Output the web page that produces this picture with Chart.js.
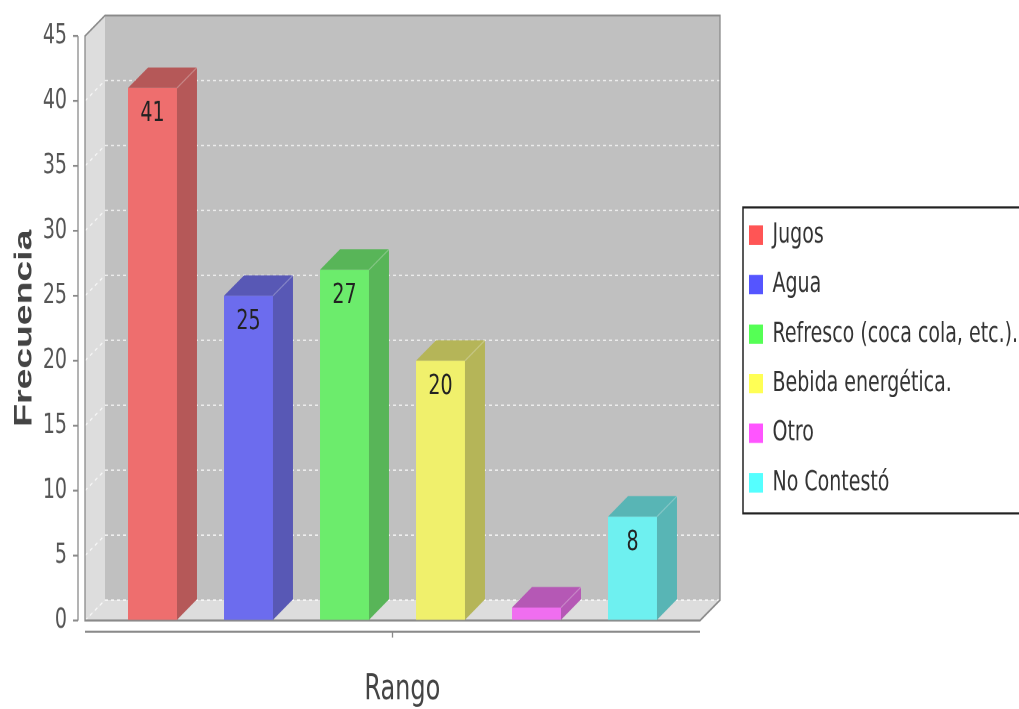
<!DOCTYPE html>
<html>
<head>
<meta charset="utf-8">
<script src="https://cdn.jsdelivr.net/npm/chart.js@4/dist/chart.umd.min.js"></script>
<style>
html,body{margin:0;padding:0;background:#fff;overflow:hidden;width:1019px;height:709px}
#wrap{width:1019px;height:475px;transform:scaleY(1.492632);transform-origin:0 0}
canvas{display:block}
</style>
</head>
<body>
<div id="wrap"><canvas id="c" width="1019" height="475" style="width:1019px;height:475px"></canvas></div>
<script>
// ---- data ----
const categories = [''];
const seriesNames = ['Jugos', 'Agua', 'Refresco (coca cola, etc.).', 'Bebida energética.', 'Otro', 'No Contestó'];
const seriesValues = [41, 25, 27, 20, 1, 8];
const yMin = 0, yMax = 45, yStep = 5;
const xTitle = 'Rango';
const yTitle = 'Frecuencia';

// ---- styles ----
const frontColors  = ['rgb(238,110,110)', 'rgb(108,108,238)', 'rgb(108,236,108)', 'rgb(240,240,108)', 'rgb(240,110,240)', 'rgb(110,240,240)'];
const depthColors  = ['rgb(181,88,88)',   'rgb(88,88,181)',   'rgb(88,181,88)',   'rgb(181,181,88)',  'rgb(181,88,181)',  'rgb(88,181,181)'];
const legendColors = ['rgb(255,85,85)',   'rgb(85,85,255)',   'rgb(85,255,85)',   'rgb(255,255,85)',  'rgb(255,85,255)',  'rgb(85,255,255)'];

const DX = 20, DY = 13.7;

function poly(ctx, pts) {
  ctx.beginPath();
  ctx.moveTo(pts[0][0], pts[0][1]);
  for (let i = 1; i < pts.length; i++) ctx.lineTo(pts[i][0], pts[i][1]);
  ctx.closePath();
}
function line(ctx, x1, y1, x2, y2) {
  ctx.beginPath(); ctx.moveTo(x1, y1); ctx.lineTo(x2, y2); ctx.stroke();
}

const threeD = {
  id: 'threeD',
  afterLayout(chart) {
    // let the legend text run past the legend box (it is cut by the page edge instead)
    if (chart.legend) chart.legend.right = 1200;
  },
  beforeDatasetsDraw(chart) {
    const {ctx, chartArea: a} = chart;
    const y = chart.scales.y;
    ctx.save();
    ctx.fillStyle = '#c0c0c0';
    ctx.fillRect(a.left + DX, a.top - DY, a.right - a.left, a.bottom - a.top);
    ctx.fillStyle = '#dddddd';
    poly(ctx, [[a.left, a.top], [a.left + DX, a.top - DY], [a.left + DX, a.bottom - DY], [a.left, a.bottom]]);
    ctx.fill();
    poly(ctx, [[a.left, a.bottom], [a.left + DX, a.bottom - DY], [a.right + DX, a.bottom - DY], [a.right, a.bottom]]);
    ctx.fill();
    ctx.strokeStyle = 'rgba(255,255,255,0.75)';
    ctx.lineWidth = 1;
    ctx.setLineDash([3, 3]);
    y.ticks.forEach(t => {
      if (t.value >= yMax) return;
      const py = y.getPixelForValue(t.value);
      line(ctx, a.left + DX, py - DY, a.right + DX, py - DY);
      line(ctx, a.left, py, a.left + DX, py - DY);
    });
    ctx.setLineDash([]);
    ctx.strokeStyle = '#8a8a8a';
    ctx.lineWidth = 1.3;
    poly(ctx, [[a.left, a.top], [a.left + DX, a.top - DY], [a.right + DX, a.top - DY], [a.right + DX, a.bottom - DY], [a.right, a.bottom], [a.left, a.bottom]]);
    ctx.stroke();
    ctx.restore();
  },
  afterDatasetsDraw(chart) {
    const ctx = chart.ctx;
    ctx.save();
    chart.data.datasets.forEach((ds, i) => {
      const meta = chart.getDatasetMeta(i);
      if (meta.hidden) return;
      meta.data.forEach((el, j) => {
        const x = el.x, top = el.y, base = el.base, w = el.width;
        const l = x - w / 2, r = x + w / 2;
        ctx.fillStyle = depthColors[i];
        poly(ctx, [[r, top], [r + DX, top - DY], [r + DX, base - DY], [r, base]]);
        ctx.fill();
        poly(ctx, [[l, top], [l + DX, top - DY], [r + DX, top - DY], [r, top]]);
        ctx.fill();
        ctx.strokeStyle = 'rgba(255,255,255,0.22)';
        ctx.lineWidth = 1;
        line(ctx, r, top, r + DX, top - DY);
        const v = ds.data[j];
        if (base - top > 30) {
          ctx.fillStyle = '#222';
          ctx.font = '19px "DejaVu Sans"';
          ctx.textAlign = 'center';
          ctx.textBaseline = 'middle';
          ctx.fillText(String(v), x, top + 17.4);
        }
      });
    });
    ctx.restore();
  },
  afterDraw(chart) {
    const {ctx, chartArea: a} = chart;
    const y = chart.scales.y, x = chart.scales.x;
    ctx.save();
    ctx.strokeStyle = '#8a8a8a';
    ctx.lineWidth = 1.3;
    const ax = a.left - 7;
    line(ctx, ax, y.getPixelForValue(yMax), ax, y.getPixelForValue(yMin));
    y.ticks.forEach(t => {
      const py = y.getPixelForValue(t.value);
      line(ctx, ax - 5, py, ax, py);
    });
    const xy = a.bottom + 7.5;
    line(ctx, a.left, xy, a.right, xy);
    const cx = x.getPixelForValue(0);
    line(ctx, cx, xy, cx, xy + 4);
    const lg = chart.legend;
    const hb = lg.legendHitBoxes;
    if (hb && hb.length) {
      const bt = hb[0].top - 9;
      const last = hb[hb.length - 1];
      const bb = last.top + last.height + 11;
      ctx.strokeStyle = '#222';
      ctx.lineWidth = 1.5;
      ctx.strokeRect(lg.left + 8.2, bt, 400, bb - bt);
    }
    ctx.restore();
  }
};

new Chart(document.getElementById('c'), {
  type: 'bar',
  data: {
    labels: categories,
    datasets: seriesNames.map((n, i) => ({
      label: n,
      data: [seriesValues[i]],
      backgroundColor: frontColors[i],
      borderWidth: 0,
      categoryPercentage: 0.9366,
      barPercentage: 0.51
    }))
  },
  options: {
    responsive: false,
    animation: false,
    devicePixelRatio: 2,
    layout: {padding: {top: 24.1, left: 0, right: 137.24, bottom: 18.2}},
    plugins: {
      tooltip: {enabled: false},
      legend: {
        position: 'right',
        labels: {
          boxWidth: 14,
          boxHeight: 13,
          padding: 14.2,
          color: '#333',
          font: {family: 'DejaVu Sans', size: 19},
          generateLabels(chart) {
            const items = Chart.defaults.plugins.legend.labels.generateLabels(chart);
            items.forEach((it, i) => { it.fillStyle = legendColors[i]; it.strokeStyle = legendColors[i]; it.lineWidth = 0; });
            return items;
          }
        }
      }
    },
    scales: {
      x: {
        grid: {display: false},
        border: {display: false},
        ticks: {display: false},
        title: {display: true, text: '\u2002\u00a0' + xTitle, color: '#444', font: {family: 'DejaVu Sans', size: 24}, padding: {top: 0, bottom: -19.9}},
        afterFit(s) { s.height = 41.1; }
      },
      y: {
        min: yMin,
        max: yMax,
        ticks: {stepSize: yStep, padding: 0, color: '#555', font: {family: 'DejaVu Sans', size: 19}},
        grid: {drawOnChartArea: false, drawTicks: true, tickLength: 18, color: 'rgba(0,0,0,0)'},
        border: {display: false},
        title: {display: true, text: yTitle, color: '#444', font: {family: 'Liberation Sans', size: 25, weight: 'bold'}, padding: {top: 9.5, bottom: 0}},
        afterFit(s) { s.width = 85; }
      },
      y2: {
        type: 'linear',
        position: 'right',
        grid: {display: false},
        border: {display: false},
        ticks: {display: false},
        afterFit(s) { s.width = 34.8; }
      }
    }
  },
  plugins: [threeD]
});
</script>
</body>
</html>
